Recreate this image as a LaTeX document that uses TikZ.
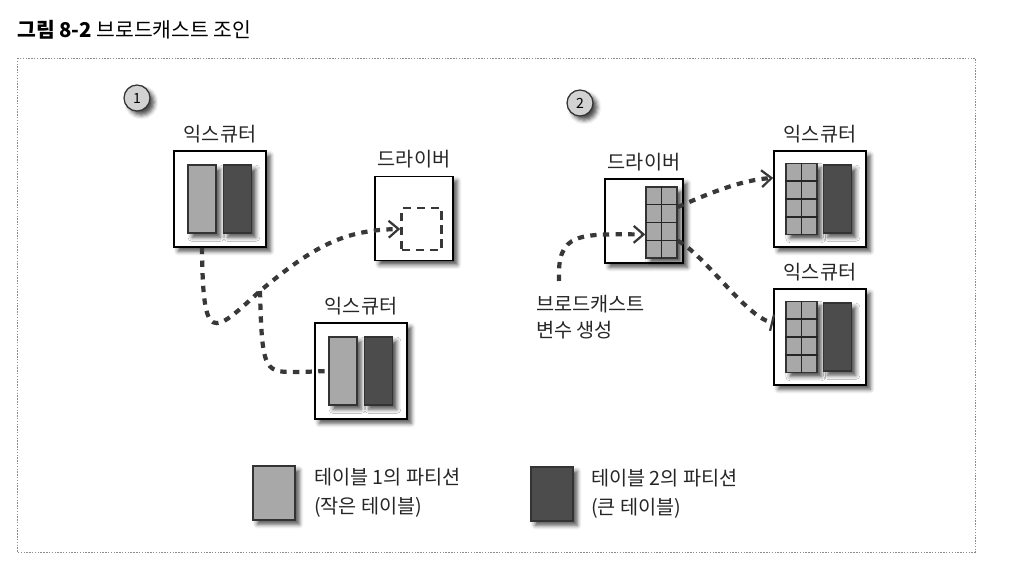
\documentclass[tikz,border=0pt]{standalone}
\usepackage{fontspec}
\setmainfont{Noto Sans CJK KR}
\usetikzlibrary{calc}
\usetikzlibrary{arrows.meta}
\usetikzlibrary{positioning}
\usetikzlibrary{shadows.blur}
\definecolor{smallpart}{HTML}{A8A8A8}
\definecolor{bigpart}{HTML}{4C4C4C}
\definecolor{ink}{HTML}{383838}
\definecolor{stagegray}{HTML}{D2D2D2}

\tikzset{
  softshadow/.style={blur shadow={shadow xshift=3pt, shadow yshift=-3pt, shadow blur radius=3pt, shadow opacity=70}},
  machine/.style={draw=black, line width=1.2pt, fill=white, inner sep=0pt, softshadow},
  executor/.style={machine, minimum width=2.3cm, minimum height=2.4cm},
  driver/.style={machine, minimum width=1.95cm, minimum height=2.1cm},
  tag/.style={font=\fontsize{14pt}{16pt}\selectfont, text=black!85, inner sep=2pt},
  smallbar/.style={draw=black!80, line width=0.9pt, fill=smallpart, minimum width=0.7cm, minimum height=1.7cm, inner sep=0pt, softshadow},
  bigbar/.style={smallbar, fill=bigpart},
  partgrid/.style={smallbar, minimum width=0.78cm, minimum height=1.77cm},
  slot/.style={draw=ink, line width=1.8pt, dash pattern=on 6pt off 4pt, minimum width=1.0cm, minimum height=1.05cm, inner sep=0pt},
  flow/.style={draw=ink, line width=3pt, dash pattern=on 4.5pt off 4.5pt},
  chevron/.style={-{Straight Barb[length=7pt, width=12pt, line width=1.6pt]}},
  stagemark/.style={circle, draw=black!80, line width=0.9pt, fill=stagegray, minimum size=0.65cm, inner sep=0pt, font=\normalsize, softshadow},
  frame/.style={draw=black!45, line width=0.5pt, dash pattern=on 1pt off 1pt},
}

\begin{document}
\begin{tikzpicture}[x=0.025cm, y=-0.025cm]
\useasboundingbox (0,0) rectangle (1012,580);
\node[font=\fontsize{14.5pt}{16pt}\selectfont, anchor=west, inner sep=0pt] (title) at (17,30) {\textbf{그림 8-2} 브로드캐스트 조인};
\draw[frame] (17,58) rectangle (975,552);

% stage 1
\node[stagemark] (one) at (137,98) {1};
\node[executor] (ex1) at (220,199) {};
\node[tag, above=3pt of ex1] (ex1tag) {익스큐터};
\node[smallbar] (ex1a) at ($(ex1)+(-18,0)$) {};
\node[bigbar] (ex1b) at ($(ex1)+(17.5,0)$) {};
\node[driver] (drv1) at (414,218.5) {};
\node[tag, above=3pt of drv1] (drv1tag) {드라이버};
\node[slot] (drv1slot) at ($(drv1)+(7.5,10.5)$) {};
\node[executor] (ex2) at (361,371) {};
\node[tag, above=3pt of ex2] (ex2tag) {익스큐터};
\node[smallbar] (ex2a) at ($(ex2)+(-18,0)$) {};
\node[bigbar] (ex2b) at ($(ex2)+(17.5,0)$) {};

\coordinate (fork) at (260,291);
\draw[flow, chevron] (ex1a |- ex1.south) .. controls (203,345) and (212,335) .. (fork) .. controls (315,245) and (345,230) .. (drv1slot.west);
\draw[flow] (fork) .. controls (262,375) and (265,372) .. (300,372) -- (ex2a.west);

% stage 2
\node[stagemark] (two) at (580,103) {2};
\node[driver] (drv2) at (644,221) {};
\node[tag, above=3pt of drv2] (drv2tag) {드라이버};
\node[partgrid] (drv2grid) at ($(drv2)+(17.5,1.5)$) {};
\node[executor] (ex3) at (820,199) {};
\node[tag, above=3pt of ex3] (ex3tag) {익스큐터};
\node[partgrid] (ex3grid) at ($(ex3)+(-18.5,0)$) {};
\node[bigbar] (ex3b) at ($(ex3)+(17.5,0)$) {};
\node[executor] (ex4) at (820,337) {};
\node[tag, above=3pt of ex4] (ex4tag) {익스큐터};
\node[partgrid] (ex4grid) at ($(ex4)+(-18.5,0)$) {};
\node[bigbar] (ex4b) at ($(ex4)+(17.5,0)$) {};
\foreach \g in {drv2grid, ex3grid, ex4grid} {
  \draw[black!85, line width=0.9pt] (\g.north) -- (\g.south);
  \foreach \f in {0.25, 0.5, 0.75}
    \draw[black!85, line width=0.9pt] ($(\g.north west)!\f!(\g.south west)$) -- ($(\g.north east)!\f!(\g.south east)$);
}

\node[tag, align=left, anchor=north west, font=\fontsize{14pt}{18.5pt}\selectfont] (bcnote) at (533,292) {브로드캐스트\\변수 생성};
\coordinate (bcsrc) at (559,281);
\draw[flow, chevron] (bcsrc) .. controls (557,232) and (578,234) .. ([yshift=-8.5pt]drv2grid.west);
\draw[flow, chevron] ([yshift=11pt]drv2grid.east) .. controls (712,192) and (742,180) .. ([yshift=15pt]ex3.west);
\draw[flow, -{Bar[width=12pt, line width=1.6pt]}] ([yshift=-13pt]drv2grid.east) .. controls (705,255) and (745,316) .. ([yshift=10pt]ex4.west);

% legend
\node[smallbar, minimum width=1.05cm, minimum height=1.35cm] (key1) at (274,493) {};
\node[tag, align=left, anchor=west, font=\fontsize{14pt}{21pt}\selectfont] (key1text) at (311,493) {테이블 1의 파티션\\(작은 테이블)};
\node[bigbar, minimum width=1.05cm, minimum height=1.35cm] (key2) at (552,494) {};
\node[tag, align=left, anchor=west, font=\fontsize{14pt}{21pt}\selectfont] (key2text) at (588,494) {테이블 2의 파티션\\(큰 테이블)};
\end{tikzpicture}
\end{document}
